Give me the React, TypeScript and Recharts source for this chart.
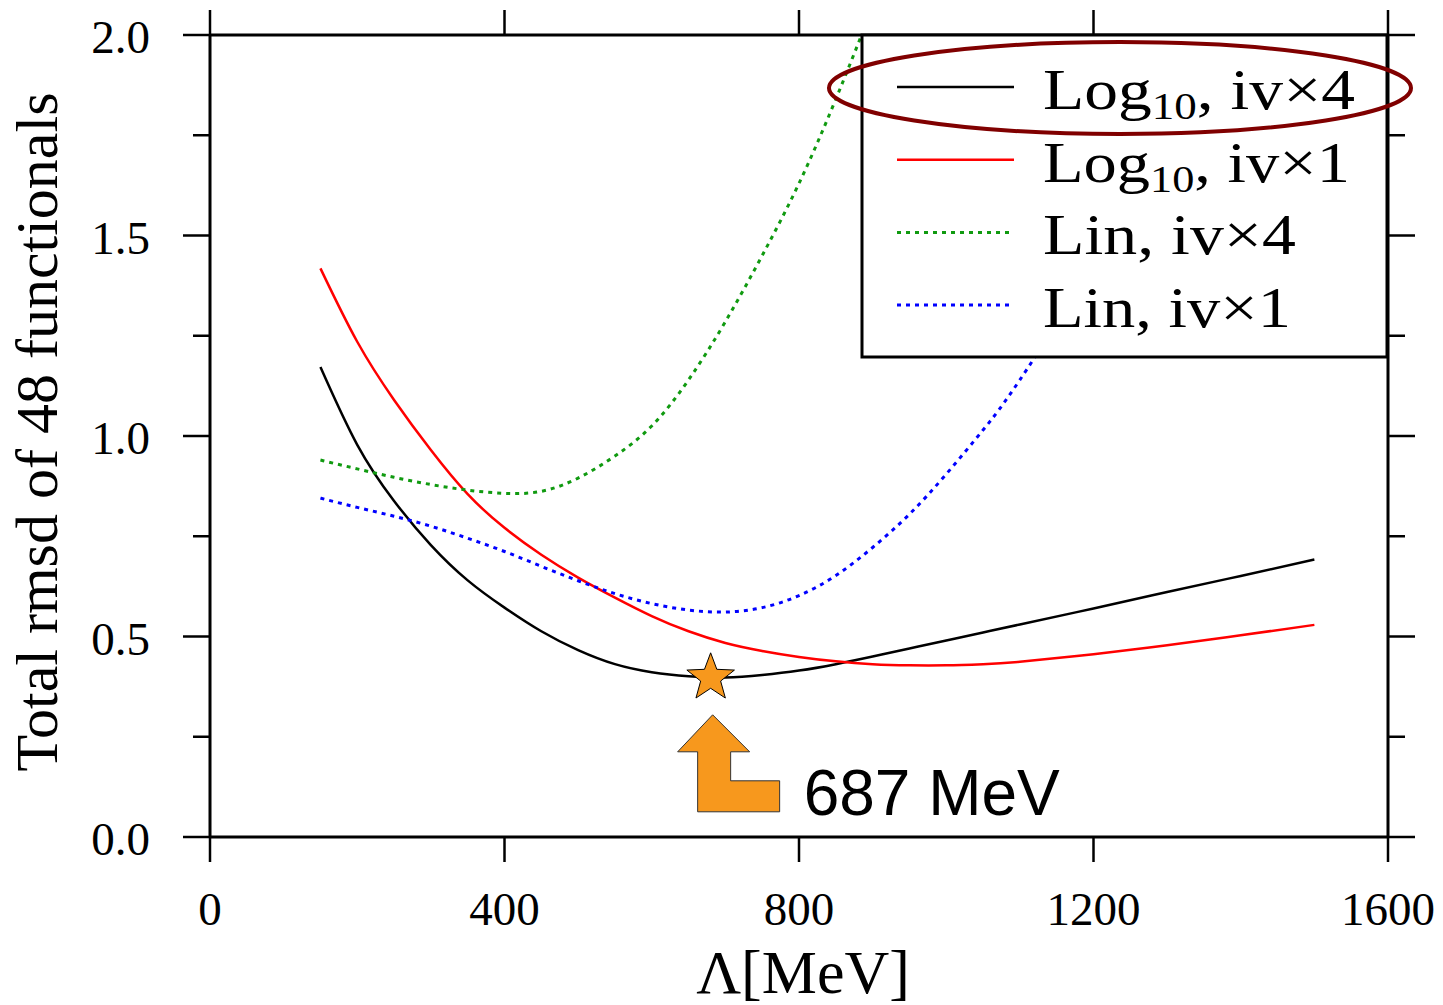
import { LineChart, Line, XAxis, YAxis, Legend, ReferenceDot } from "recharts";

// Λ [MeV] grid and the four fitted curves
const lambda = [150, 200, 250, 300, 350, 400, 450, 500, 550, 600, 650, 700, 750, 800, 850, 900, 950, 1000, 1050, 1100, 1200, 1300, 1400, 1500];
const log10Iv4 = [1.172, 0.978, 0.838, 0.728, 0.64, 0.572, 0.513, 0.466, 0.431, 0.411, 0.401, 0.398, 0.404, 0.415, 0.431, 0.45, 0.47, 0.49, 0.51, 0.53, 0.57, 0.611, 0.651, 0.692];
const log10Iv1 = [1.418, 1.235, 1.09, 0.965, 0.855, 0.771, 0.704, 0.647, 0.597, 0.551, 0.513, 0.484, 0.464, 0.449, 0.438, 0.431, 0.428, 0.428, 0.431, 0.437, 0.456, 0.478, 0.503, 0.529];
const linIv4 = [0.94, 0.918, 0.897, 0.879, 0.865, 0.857, 0.862, 0.895, 0.95, 1.025, 1.14, 1.285, 1.45, 1.63, 1.84, 2.07, null, null, null, null, null, null, null, null];
const linIv1 = [0.845, 0.822, 0.8, 0.775, 0.745, 0.712, 0.675, 0.639, 0.607, 0.582, 0.566, 0.561, 0.572, 0.602, 0.652, 0.722, 0.805, 0.905, 1.015, 1.14, 1.43, 1.76, 2.12, null];

const xTicks = [0, 400, 800, 1200, 1600];
const yTicks = [0, 0.25, 0.5, 0.75, 1, 1.25, 1.5, 1.75, 2];
const yMajor = [0, 0.5, 1, 1.5, 2];

// marked optimum
const optimumLambda = 680;
const optimumRmsd = 0.397;
const optimumLabel = "687 MeV";

const data = lambda.map((x, i) => ({
  lambda: x,
  log4: log10Iv4[i],
  log1: log10Iv1[i],
  lin4: linIv4[i],
  lin1: linIv1[i],
}));

const series = [
  { key: "log4", main: "Log", sub: "10", rest: ", iv×4", color: "#000000", dash: undefined, textLen: 312 },
  { key: "log1", main: "Log", sub: "10", rest: ", iv×1", color: "#ff0000", dash: undefined, textLen: 307 },
  { key: "lin4", main: "Lin, iv×4", sub: "", rest: "", color: "#109a10", dash: "4 5", textLen: 253 },
  { key: "lin1", main: "Lin, iv×1", sub: "", rest: "", color: "#0000ff", dash: "4 5", textLen: 248 },
];

const SERIF = '"Liberation Serif", "Times New Roman", serif';
const SANS = '"Liberation Sans", Arial, sans-serif';
const AXIS = { stroke: "#000", strokeWidth: 3 };

function BottomTick({ x, y, payload }: any) {
  return (
    <g>
      <line x1={x} x2={x} y1={y} y2={y + 25} stroke="#000" strokeWidth={2.5} />
      <text x={x} y={y + 88} textAnchor="middle" fontFamily={SERIF} fontSize={47} fill="#000">
        {payload.value}
      </text>
    </g>
  );
}

function TopTick({ x, y }: any) {
  return <line x1={x} x2={x} y1={y} y2={y - 25} stroke="#000" strokeWidth={2.5} />;
}

function LeftTick({ x, y, payload }: any) {
  const major = yMajor.includes(payload.value);
  return (
    <g>
      <line x1={x - (major ? 27 : 17)} x2={x} y1={y} y2={y} stroke="#000" strokeWidth={2.5} />
      {major && (
        <text x={x - 60} y={y + 2} textAnchor="end" dominantBaseline="central" fontFamily={SERIF} fontSize={47} fill="#000">
          {payload.value.toFixed(1)}
        </text>
      )}
    </g>
  );
}

function RightTick({ x, y, payload }: any) {
  const major = yMajor.includes(payload.value);
  return <line x1={x} x2={x + (major ? 27 : 17)} y1={y} y2={y} stroke="#000" strokeWidth={2.5} />;
}

function YTitle({ viewBox }: any) {
  const cx = viewBox.x + 57;
  const cy = viewBox.y + viewBox.height / 2 - 4;
  return (
    <text transform={`translate(${cx},${cy}) rotate(-90)`} textAnchor="middle" fontFamily={SERIF} fontSize={60} fill="#000">
      Total rmsd of 48 functionals
    </text>
  );
}

function XTitle({ viewBox }: any) {
  return (
    <text x={viewBox.x + viewBox.width / 2 + 4} y={viewBox.y + 156} textAnchor="middle" fontFamily={SERIF} fontSize={62} fill="#000">
      Λ[MeV]
    </text>
  );
}

function OptimumMarker({ cx, cy }: any) {
  const pts: string[] = [];
  for (let k = 0; k < 10; k++) {
    const r = k % 2 === 0 ? 25 : 10.5;
    const a = (Math.PI / 5) * k - Math.PI / 2;
    pts.push(`${cx + r * Math.cos(a)},${cy + r * Math.sin(a)}`);
  }
  const arrow = [
    [2, 37], [39, 74], [20, 74], [20, 103], [69, 103], [69, 134], [-13, 134], [-13, 74], [-33, 74],
  ].map(([dx, dy]) => `${cx + dx},${cy + dy}`).join(" ");
  return (
    <g>
      <polygon points={pts.join(" ")} fill="#f7981d" stroke="#000" strokeWidth={1} />
      <polygon points={arrow} fill="#f7981d" stroke="#333" strokeWidth={1} />
      <text x={cx + 93} y={cy + 137} fontFamily={SANS} fontSize={64} fill="#000">
        {optimumLabel}
      </text>
    </g>
  );
}

function LegendBox() {
  return (
    <svg width={525} height={322} style={{ overflow: "visible", display: "block" }}>
      <rect x={0} y={0} width={525} height={322} fill="#fff" stroke="#000" strokeWidth={3} />
      {series.map((s, i) => {
        const ly = 52 + i * 72.7;
        return (
          <g key={s.key}>
            <line x1={35} x2={152} y1={ly} y2={ly} stroke={s.color} strokeWidth={s.dash ? 3 : 2.5} strokeDasharray={s.dash} />
            <text x={181} y={ly + 22} fontFamily={SERIF} fontSize={57} fill="#000" textLength={s.textLen} lengthAdjust="spacingAndGlyphs">
              {s.main}
              {s.sub && (
                <tspan fontSize={38} dy={10}>
                  {s.sub}
                </tspan>
              )}
              {s.rest && <tspan dy={-10}>{s.rest}</tspan>}
            </text>
          </g>
        );
      })}
      <ellipse cx={258} cy={53} rx={291} ry={46} fill="none" stroke="#800000" strokeWidth={4} />
    </svg>
  );
}

export default function App() {
  return (
    <div style={{ position: "absolute", left: 0, top: 0, width: 1443, height: 1005, background: "#fff" }}>
      <LineChart width={1443} height={1005} data={data} margin={{ top: 0, right: 0, bottom: 0, left: 0 }}>
        <XAxis
          xAxisId="bottom"
          dataKey="lambda"
          type="number"
          domain={[0, 1600]}
          allowDataOverflow
          ticks={xTicks}
          interval={0}
          height={168}
          tickSize={0}
          tickMargin={0}
          tick={BottomTick}
          axisLine={AXIS}
          label={<XTitle />}
        />
        <XAxis
          xAxisId="top"
          dataKey="lambda"
          orientation="top"
          type="number"
          domain={[0, 1600]}
          allowDataOverflow
          ticks={xTicks}
          interval={0}
          height={35}
          tickSize={0}
          tickMargin={0}
          tick={TopTick}
          axisLine={AXIS}
        />
        <YAxis
          yAxisId="left"
          type="number"
          domain={[0, 2]}
          allowDataOverflow
          ticks={yTicks}
          interval={0}
          width={210}
          tickSize={0}
          tickMargin={0}
          tick={LeftTick}
          axisLine={AXIS}
          label={<YTitle />}
        />
        <YAxis
          yAxisId="right"
          orientation="right"
          type="number"
          domain={[0, 2]}
          allowDataOverflow
          ticks={yTicks}
          interval={0}
          width={55}
          tickSize={0}
          tickMargin={0}
          tick={RightTick}
          axisLine={AXIS}
        />
        {series.map((s) => (
          <Line
            key={s.key}
            xAxisId="bottom"
            yAxisId="left"
            dataKey={s.key}
            type="natural"
            stroke={s.color}
            strokeWidth={s.dash ? 3 : 2.5}
            strokeDasharray={s.dash}
            dot={false}
            activeDot={false}
            isAnimationActive={false}
          />
        ))}
        <ReferenceDot
          xAxisId="bottom"
          yAxisId="left"
          x={optimumLambda}
          y={optimumRmsd}
          r={25}
          shape={(p: any) => <OptimumMarker {...p} />}
        />
        <Legend
          layout="horizontal"
          verticalAlign="middle"
          align="center"
          width={525}
          height={322}
          wrapperStyle={{ left: 862, top: 35, width: 525, height: 322 }}
          content={() => <LegendBox />}
        />
      </LineChart>
    </div>
  );
}
